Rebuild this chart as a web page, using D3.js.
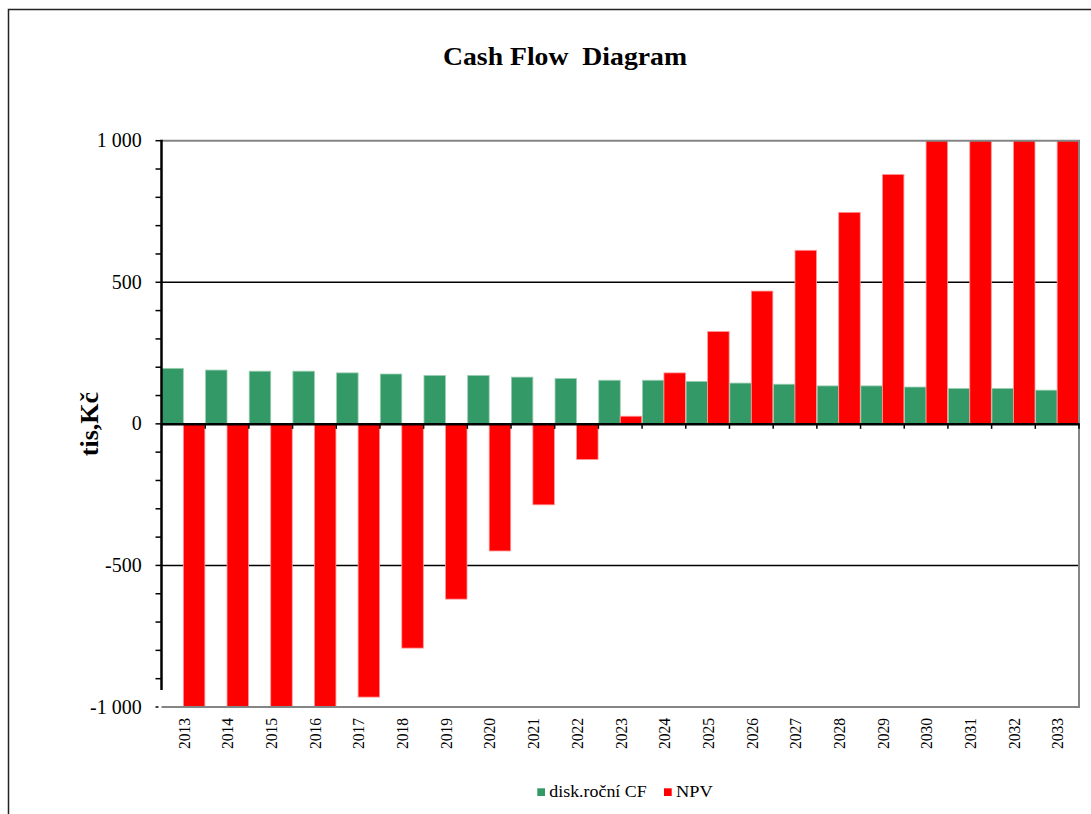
<!DOCTYPE html>
<html>
<head>
<meta charset="utf-8">
<script src="https://cdn.jsdelivr.net/npm/d3@7"></script>
<style>
  html, body { margin: 0; padding: 0; background: #fff; }
  svg { display: block; }
  text { font-family: "Liberation Serif", "Times New Roman", serif; fill: #000; }
</style>
</head>
<body>
<svg id="chart" width="1091" height="814"></svg>
<script>
// Cash flow by year (tis. Kč)
const years = ["2013","2014","2015","2016","2017","2018","2019","2020","2021","2022","2023",
               "2024","2025","2026","2027","2028","2029","2030","2031","2032","2033"];
// discounted annual cash flow
const diskCF = [196, 190, 186, 186, 180, 176, 171, 171, 165, 160, 154,
                154, 150, 144, 140, 134, 134, 130, 125, 125, 119];
// cumulative net present value
const npv = [-1712, -1522, -1336, -1150, -965, -792, -619, -449, -286, -126, 27,
             180, 326, 469, 613, 747, 881, 1011, 1136, 1261, 1380];
const seriesNames = ["disk.roční CF", "NPV"];
const seriesColors = ["#339966", "#ff0000"];
const yTicks = [-1000, -500, 0, 500, 1000];
const yTickLabels = ["-1 000", "-500", "0", "500", "1 000"];

const svg = d3.select("#chart");

// outer frame
svg.append("rect")
  .attr("x", 8.5).attr("y", 9.5).attr("width", 1200).attr("height", 1000)
  .attr("fill", "none").attr("stroke", "#222").attr("stroke-width", 1.5);

const plot = { left: 161.5, right: 1079, top: 140.7, bottom: 707 };

const x = d3.scaleBand().domain(years).range([plot.left, plot.right]).padding(0);
const xs = d3.scaleBand().domain(seriesNames).range([0, x.bandwidth()])
  .paddingInner(0).paddingOuter(0.015);
const y = d3.scaleLinear().domain([-1000, 1000]).range([plot.bottom, plot.top]);

// gridlines at ±500
svg.append("g").selectAll("line").data([-500, 500]).join("line")
  .attr("x1", plot.left).attr("x2", plot.right)
  .attr("y1", d => y(d)).attr("y2", d => y(d))
  .attr("stroke", "#000").attr("stroke-width", 1.5);

// bars clipped to the plot area
svg.append("clipPath").attr("id", "plotClip")
  .append("rect")
  .attr("x", plot.left).attr("y", plot.top)
  .attr("width", plot.right - plot.left).attr("height", plot.bottom - plot.top);

const rows = years.map((yr, i) => ({ year: yr, vals: [diskCF[i], npv[i]] }));
const barsG = svg.append("g").attr("clip-path", "url(#plotClip)");
rows.forEach(r => {
  r.vals.forEach((v, si) => {
    barsG.append("rect")
      .attr("x", x(r.year) + xs(seriesNames[si]))
      .attr("width", xs.bandwidth())
      .attr("y", y(Math.max(0, v)))
      .attr("height", Math.abs(y(v) - y(0)))
      .attr("fill", seriesColors[si])
      .attr("stroke", si === 0 ? "#9ccfb3" : "#ff9a9a")
      .attr("stroke-width", 0.8);
  });
});

// plot area border (top, right, bottom) in grey
svg.append("path")
  .attr("d", `M${plot.left},${plot.top}H${plot.right}V${plot.bottom}H${plot.left}`)
  .attr("fill", "none").attr("stroke", "#858585").attr("stroke-width", 2);

// category axis along zero
const xAxis = d3.axisBottom(x).tickSize(0).tickFormat("");
svg.append("g").attr("transform", `translate(0,${y(0)})`).call(xAxis)
  .call(g => g.select(".domain").attr("stroke", "#000").attr("stroke-width", 2.5));
// ticks at category boundaries
const bounds = years.map(d => x(d)).concat([plot.right]);
svg.append("g").selectAll("line").data(bounds).join("line")
  .attr("x1", d => d).attr("x2", d => d)
  .attr("y1", y(0)).attr("y2", y(0) + 5)
  .attr("stroke", "#000").attr("stroke-width", 1.5);

// year labels, rotated, below the plot
svg.append("g").selectAll("text").data(years).join("text")
  .attr("transform", d => `translate(${x(d) + x.bandwidth() / 2 + 6.3},718) rotate(-90)`)
  .attr("text-anchor", "end")
  .attr("font-size", 17)
  .attr("textLength", 31).attr("lengthAdjust", "spacingAndGlyphs")
  .text(d => d);

// value axis
const minorTicks = d3.range(-900, 1001, 100);
svg.append("line")
  .attr("x1", plot.left).attr("x2", plot.left)
  .attr("y1", plot.top - 1).attr("y2", 690)
  .attr("stroke", "#000").attr("stroke-width", 2.5);
svg.append("g").selectAll("line").data(minorTicks).join("line")
  .attr("x1", plot.left - 6).attr("x2", plot.left)
  .attr("y1", d => y(d)).attr("y2", d => y(d))
  .attr("stroke", "#000").attr("stroke-width", 1.5);
svg.append("line")
  .attr("x1", plot.left - 6).attr("x2", plot.left - 3)
  .attr("y1", y(-1000)).attr("y2", y(-1000))
  .attr("stroke", "#000").attr("stroke-width", 1.5);

svg.append("g").selectAll("text").data(yTicks).join("text")
  .attr("x", 141.7).attr("y", d => y(d) + 6.5)
  .attr("text-anchor", "end")
  .attr("font-size", 20)
  .text((d, i) => yTickLabels[i]);

// axis title
svg.append("text")
  .attr("transform", `translate(98,424) rotate(-90)`)
  .attr("text-anchor", "middle")
  .attr("font-size", 26).attr("font-weight", "bold")
  .text("tis,Kč");

// chart title
svg.append("text")
  .attr("x", 565).attr("y", 65)
  .attr("text-anchor", "middle")
  .attr("font-size", 26).attr("font-weight", "bold")
  .attr("textLength", 244).attr("lengthAdjust", "spacingAndGlyphs")
  .style("white-space", "pre")
  .text("Cash Flow  Diagram");

// legend
const legend = svg.append("g");
const legendItems = [
  { name: seriesNames[0], color: seriesColors[0], sx: 537.3, tx: 549.3, tw: 97.4 },
  { name: seriesNames[1], color: seriesColors[1], sx: 664, tx: 676, tw: 36.7 }
];
legendItems.forEach(it => {
  legend.append("rect")
    .attr("x", it.sx).attr("y", 788.3).attr("width", 7.7).attr("height", 7.7)
    .attr("fill", it.color);
  legend.append("text")
    .attr("x", it.tx).attr("y", 797.3)
    .attr("font-size", 17.5)
    .attr("textLength", it.tw).attr("lengthAdjust", "spacingAndGlyphs")
    .text(it.name);
});
</script>
</body>
</html>
